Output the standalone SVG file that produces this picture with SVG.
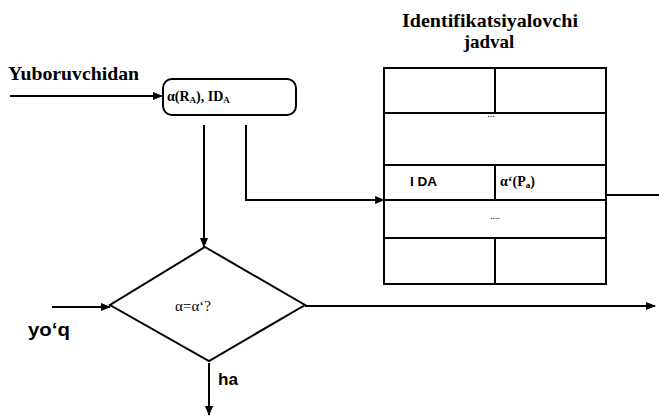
<svg xmlns="http://www.w3.org/2000/svg" width="659" height="418" viewBox="0 0 659 418">
  <style>
    .ln { fill: none; stroke: #000; stroke-width: 2; }
    .box { fill: #fff; stroke: #000; stroke-width: 2; }
    .serif { font-family: "Liberation Serif", "DejaVu Serif", serif; fill: #000; font-weight: bold; }
    .plain { font-weight: normal; }
    .sans { font-family: "Liberation Sans", Arial, sans-serif; fill: #000; font-weight: bold; }
  </style>
  <defs>
    <marker id="arr" viewBox="0 0 10 10" refX="9" refY="5" markerWidth="10" markerHeight="10" markerUnits="userSpaceOnUse" orient="auto">
      <path d="M0,1 L10,5 L0,9 Z" fill="#000"/>
    </marker>
  </defs>
  <rect width="659" height="418" fill="#fff"/>

  <!-- labels -->
  <text class="serif" x="8" y="80" font-size="19" textLength="131" lengthAdjust="spacingAndGlyphs">Yuboruvchidan</text>
  <text class="serif" x="490" y="27" font-size="19" text-anchor="middle" textLength="176" lengthAdjust="spacingAndGlyphs">Identifikatsiyalovchi</text>
  <text class="serif" x="489" y="48" font-size="19" text-anchor="middle">jadval</text>
  <text class="sans" x="28" y="336" font-size="18" textLength="42" lengthAdjust="spacingAndGlyphs">yo‘q</text>
  <text class="sans" x="218" y="385" font-size="17" textLength="20" lengthAdjust="spacingAndGlyphs">ha</text>

  <!-- sender data block -->
  <g id="sender">
    <rect class="box" x="163" y="79" width="133" height="36" rx="9"/>
    <text class="serif" x="167" y="101" font-size="14">α(R<tspan font-size="9" dy="2">A</tspan><tspan dy="-2">), ID</tspan><tspan font-size="9" dy="2">A</tspan></text>
  </g>

  <!-- identification table -->
  <g id="table">
    <rect class="box" x="384" y="68" width="222" height="216"/>
    <path class="ln" d="M384,113 H606 M384,165 H606 M384,200 H606 M384,238 H606"/>
    <path class="ln" d="M495,68 V113 M495,165 V200 M495,238 V284"/>
    <text class="serif plain" x="491" y="117" font-size="10" text-anchor="middle">...</text>
    <text class="serif plain" x="495" y="219" font-size="10" text-anchor="middle">....</text>
    <text class="sans" x="410" y="186" font-size="13" textLength="27" lengthAdjust="spacingAndGlyphs">I DA</text>
    <text class="serif" x="500" y="186" font-size="14">α‘(P<tspan font-size="9" dy="2">a</tspan><tspan dy="-2">)</tspan></text>
  </g>

  <!-- comparison -->
  <g id="compare">
    <path class="box" d="M205,247 L305,305 L209,361 L110,305 Z"/>
    <text class="serif plain" x="193" y="311" font-size="15" text-anchor="middle">α=α‘?</text>
  </g>

  <!-- connectors -->
  <g id="connectors">
    <path class="ln" d="M10,96 H162" marker-end="url(#arr)"/>
    <path class="ln" d="M204,125 V247" marker-end="url(#arr)"/>
    <path class="ln" d="M246,125 V200 H384" marker-end="url(#arr)"/>
    <path class="ln" d="M606,195 H659"/>
    <path class="ln" d="M52,307 H110" marker-end="url(#arr)"/>
    <path class="ln" d="M305,306 H655" marker-end="url(#arr)"/>
    <path class="ln" d="M209,363 V415" marker-end="url(#arr)"/>
  </g>
</svg>
